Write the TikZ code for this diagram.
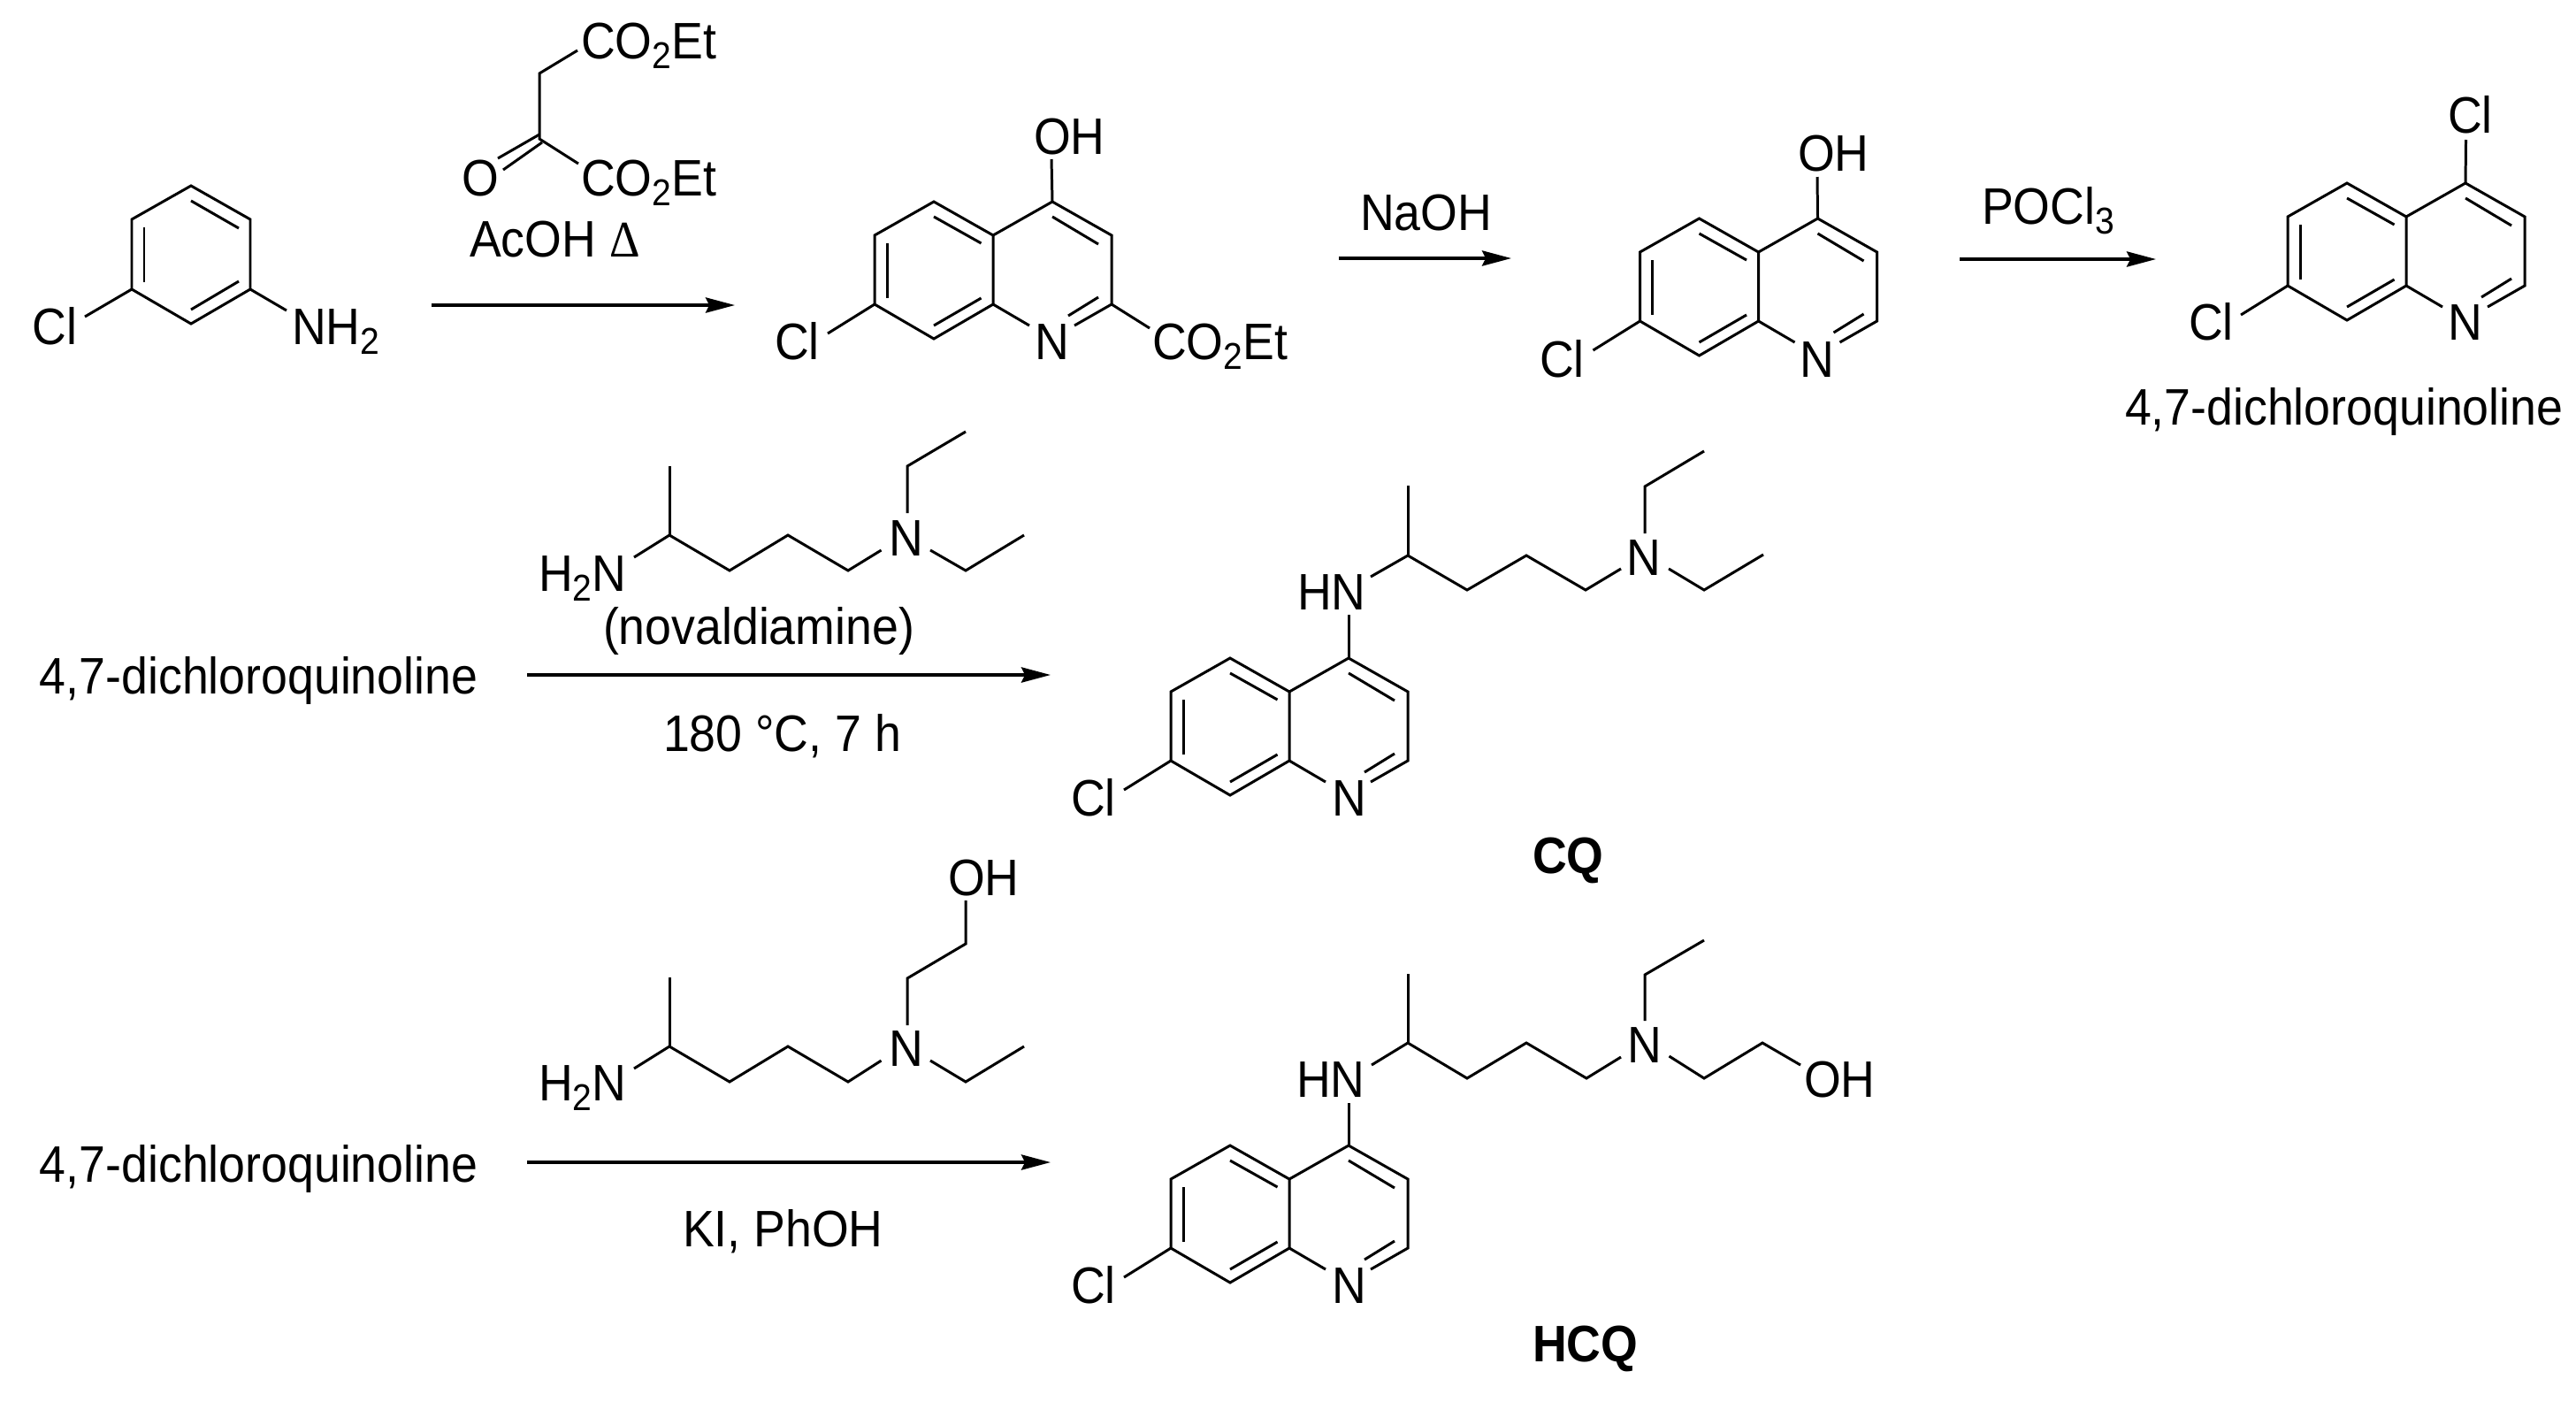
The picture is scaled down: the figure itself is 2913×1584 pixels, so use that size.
\documentclass[tikz,border=0pt]{standalone}
\usepackage{fontspec}
\setmainfont[FakeStretch=0.925]{Liberation Sans}
\newfontfamily\delfont[FakeStretch=0.925]{Liberation Serif}
\usetikzlibrary{arrows.meta}
\newcommand{\sbs}[1]{\raisebox{-3.4pt}{\fontsize{12}{13}\selectfont #1}}
\tikzset{
  lbl/.style={anchor=base west,inner sep=0pt,outer sep=0pt,xshift=-0.03cm,yshift=-0.01cm,font=\fontsize{16.5}{19}\selectfont},
  boldlbl/.style={lbl,font=\fontsize{16.5}{19}\selectfont\bfseries},
  bond/.style={draw=black,line width=0.85pt,line join=miter,line cap=butt},
  rxn/.style={draw=black,line width=1pt,-{Stealth[length=9.4pt,width=4.9pt,inset=1.2pt]}}
}
% quinoline core: #1 name prefix, #2 x of C6, #3 y of C5
\newcommand{\quinoline}[3]{%
  \begin{scope}[shift={(#2,#3)}]
    \coordinate (#1c6) at (0,38);
    \coordinate (#1c5) at (67,0);
    \coordinate (#1c4a) at (134,38);
    \coordinate (#1c4) at (201,0);
    \coordinate (#1c3) at (268,38);
    \coordinate (#1c2) at (268,116);
    \coordinate (#1c8a) at (134,116);
    \coordinate (#1c7) at (0,116);
    \coordinate (#1c8) at (67,155);
    \coordinate (#1na) at (175,140);
    \coordinate (#1nb) at (226,140);
    \coordinate (#1i1) at (14,47);
    \coordinate (#1i2) at (14,109);
    \coordinate (#1i3) at (67,17);
    \coordinate (#1i4) at (120.5,47);
    \coordinate (#1i5) at (201,17);
    \coordinate (#1i6) at (253,48);
    \coordinate (#1i7) at (67,140);
    \coordinate (#1i8) at (120.5,109);
    \coordinate (#1i9) at (253,108);
    \coordinate (#1i10) at (219,129);
    \coordinate (#1cl) at (-53,149);
  \end{scope}
  \path[bond] (#1c8a) -- (#1c8) -- (#1c7) -- (#1c6) -- (#1c5) -- (#1c4a) -- cycle;
  \path[bond] (#1na) -- (#1c8a);
  \path[bond] (#1c4a) -- (#1c4) -- (#1c3) -- (#1c2) -- (#1nb);
  \path[bond] (#1i1) -- (#1i2);
  \path[bond] (#1i3) -- (#1i4);
  \path[bond] (#1i5) -- (#1i6);
  \path[bond] (#1i7) -- (#1i8);
  \path[bond] (#1i9) -- (#1i10);
  \path[bond] (#1c7) -- (#1cl);
}
\begin{document}
\begin{tikzpicture}[x=0.01cm,y=-0.01cm]
\useasboundingbox (0,0) rectangle (2913,1584);

% --- 3-chloroaniline
\coordinate (a1) at (216,210);
\coordinate (a2) at (283,248);
\coordinate (a3) at (283,327);
\coordinate (a4) at (216,366);
\coordinate (a5) at (149,327);
\coordinate (a6) at (149,248);
\path[bond] (a1) -- (a2) -- (a3) -- (a4) -- (a5) -- (a6) -- cycle;
\coordinate (ai1) at (216,227);
\coordinate (ai2) at (270,258);
\coordinate (ai3) at (163,257);
\coordinate (ai4) at (163,319);
\coordinate (ai5) at (216,350);
\coordinate (ai6) at (270,318);
\path[bond] (ai1) -- (ai2);
\path[bond] (ai3) -- (ai4);
\path[bond] (ai5) -- (ai6);
\coordinate (acl) at (96,358);
\coordinate (anh) at (324,351);
\path[bond] (a5) -- (acl);
\path[bond] (a3) -- (anh);
\node[lbl] (tcl1) at (40,388) {Cl};
\node[lbl] (tnh2) at (333,388) {NH\sbs{2}};

% --- diethyl oxalacetate
\coordinate (m1) at (653,57);
\coordinate (m2) at (610,83);
\coordinate (m3) at (610,157);
\coordinate (m4) at (654,185);
\coordinate (m5) at (610,152);
\coordinate (m6) at (563,179);
\coordinate (m7) at (613,161);
\coordinate (m8) at (569,192);
\path[bond] (m1) -- (m2) -- (m3) -- (m4);
\path[bond] (m5) -- (m6);
\path[bond] (m7) -- (m8);
\node[lbl] (tco1) at (660,65) {CO\sbs{2}Et};
\node[lbl] (tco2) at (660,220) {CO\sbs{2}Et};
\node[lbl] (to1) at (525,220) {O};
\node[lbl] (tacoh) at (534,289) {AcOH {\delfont Δ}};

% --- arrow 1
\coordinate (r1s) at (488,345);
\coordinate (r1e) at (831,345);
\path[rxn] (r1s) -- (r1e);

% --- quinoline ester
\quinoline{qa}{989}{228}
\coordinate (qaoh) at (1189,180);
\coordinate (qaco) at (1300,371);
\path[bond] (qac4) -- (qaoh);
\path[bond] (qac2) -- (qaco);
\node[lbl] (tcl2) at (879,405) {Cl};
\node[lbl] (tn2) at (1173,405) {N};
\node[lbl] (tco3) at (1306,405) {CO\sbs{2}Et};
\node[lbl] (toh2) at (1172,173) {OH};

% --- arrow 2
\node[lbl] (tnaoh) at (1541,259) {NaOH};
\coordinate (r2s) at (1514,292);
\coordinate (r2e) at (1709,292);
\path[rxn] (r2s) -- (r2e);

% --- 7-chloroquinolin-4-ol
\quinoline{qb}{1854.5}{247}
\coordinate (qboh) at (2055,200);
\path[bond] (qbc4) -- (qboh);
\node[lbl] (tcl3) at (1744,425) {Cl};
\node[lbl] (tn3) at (2038,425) {N};
\node[lbl] (toh3) at (2036,192) {OH};

% --- arrow 3
\node[lbl] (tpocl) at (2244,252) {POCl\sbs{3}};
\coordinate (r3s) at (2216,293);
\coordinate (r3e) at (2438,293);
\path[rxn] (r3s) -- (r3e);

% --- 4,7-dichloroquinoline
\quinoline{qc}{2587}{207}
\coordinate (qccl) at (2788.5,158);
\path[bond] (qcc4) -- (qccl);
\node[lbl] (tcl4) at (2478,383) {Cl};
\node[lbl] (tn4) at (2771,383) {N};
\node[lbl] (tcl5) at (2771,149) {Cl};
\node[lbl] (tdcq1) at (2406,479) {4,7-dichloroquinoline};

% --- row 2
\node[lbl] (tdcq2) at (48,783) {4,7-dichloroquinoline};
\coordinate (r4s) at (596,763);
\coordinate (r4e) at (1188,763);
\path[rxn] (r4s) -- (r4e);
\node[lbl] (tnova) at (685,727) {(novaldiamine)};
\node[lbl] (ttemp) at (753,848) {180 °C, 7 h};

\coordinate (b1) at (717,630);
\coordinate (b2) at (757,605);
\coordinate (b3) at (757,527);
\coordinate (b4) at (825,645);
\coordinate (b5) at (891,605);
\coordinate (b6) at (959,645);
\coordinate (b7) at (996.5,622);
\coordinate (b8) at (1026,580);
\coordinate (b9) at (1026,527);
\coordinate (b10) at (1092,488);
\coordinate (b11) at (1052,622);
\coordinate (b12) at (1092,645);
\coordinate (b13) at (1158,605);
\path[bond] (b1) -- (b2) -- (b4) -- (b5) -- (b6) -- (b7);
\path[bond] (b2) -- (b3);
\path[bond] (b8) -- (b9) -- (b10);
\path[bond] (b11) -- (b12) -- (b13);
\node[lbl] (th2n1) at (612,667) {H\sbs{2}N};
\node[lbl] (tn5) at (1008,627) {N};

% --- CQ
\quinoline{qd}{1324}{744}
\coordinate (d0) at (1525,695);
\coordinate (d1) at (1550,652);
\coordinate (d2) at (1592,628);
\coordinate (d3) at (1592,549);
\coordinate (d4) at (1659,667);
\coordinate (d5) at (1726,628);
\coordinate (d6) at (1793,667);
\coordinate (d7) at (1833,643);
\coordinate (d8) at (1860,603);
\coordinate (d9) at (1860,550);
\coordinate (d10) at (1927,510);
\coordinate (d11) at (1887,643);
\coordinate (d12) at (1927,667);
\coordinate (d13) at (1994,627);
\path[bond] (qdc4) -- (d0);
\path[bond] (d1) -- (d2) -- (d4) -- (d5) -- (d6) -- (d7);
\path[bond] (d2) -- (d3);
\path[bond] (d8) -- (d9) -- (d10);
\path[bond] (d11) -- (d12) -- (d13);
\node[lbl] (tcl6) at (1214,921) {Cl};
\node[lbl] (tn6) at (1509,921) {N};
\node[lbl] (thn1) at (1470,688) {HN};
\node[lbl] (tn7) at (1842,649) {N};
\node[boldlbl] (tcq) at (1736,986) {CQ};

% --- row 3
\node[lbl] (tdcq3) at (48,1335) {4,7-dichloroquinoline};
\coordinate (r5s) at (596,1314);
\coordinate (r5e) at (1188,1314);
\path[rxn] (r5s) -- (r5e);
\node[lbl] (tki) at (775,1408) {KI, PhOH};

\coordinate (c1) at (717,1208);
\coordinate (c2) at (757,1183);
\coordinate (c3) at (757,1105);
\coordinate (c4) at (825,1223);
\coordinate (c5) at (891,1183);
\coordinate (c6) at (959,1223);
\coordinate (c7) at (996.5,1199);
\coordinate (c8) at (1026,1159);
\coordinate (c9) at (1026,1106);
\coordinate (c10) at (1092,1067);
\coordinate (c11) at (1092,1018);
\coordinate (c12) at (1052,1199);
\coordinate (c13) at (1092,1223);
\coordinate (c14) at (1158,1183);
\path[bond] (c1) -- (c2) -- (c4) -- (c5) -- (c6) -- (c7);
\path[bond] (c2) -- (c3);
\path[bond] (c8) -- (c9) -- (c10) -- (c11);
\path[bond] (c12) -- (c13) -- (c14);
\node[lbl] (th2n2) at (612,1243) {H\sbs{2}N};
\node[lbl] (tn8) at (1008,1204) {N};
\node[lbl] (toh4) at (1075,1011) {OH};

% --- HCQ
\quinoline{qe}{1324}{1295}
\coordinate (e0) at (1525,1247);
\coordinate (e1) at (1551,1204);
\coordinate (e2) at (1592,1179);
\coordinate (e3) at (1592,1101);
\coordinate (e4) at (1659,1219);
\coordinate (e5) at (1726,1179);
\coordinate (e6) at (1794,1219);
\coordinate (e7) at (1833,1195);
\coordinate (e8) at (1860,1154);
\coordinate (e9) at (1860,1102);
\coordinate (e10) at (1927,1063);
\coordinate (e11) at (1887.5,1194);
\coordinate (e12) at (1927,1219);
\coordinate (e13) at (1993,1179);
\coordinate (e14) at (2036,1204);
\path[bond] (qec4) -- (e0);
\path[bond] (e1) -- (e2) -- (e4) -- (e5) -- (e6) -- (e7);
\path[bond] (e2) -- (e3);
\path[bond] (e8) -- (e9) -- (e10);
\path[bond] (e11) -- (e12) -- (e13) -- (e14);
\node[lbl] (tcl7) at (1214,1472) {Cl};
\node[lbl] (tn9) at (1509,1472) {N};
\node[lbl] (thn2) at (1469,1239) {HN};
\node[lbl] (tn10) at (1843,1200) {N};
\node[lbl] (toh5) at (2043,1239) {OH};
\node[boldlbl] (thcq) at (1736,1538) {HCQ};
\end{tikzpicture}
\end{document}
